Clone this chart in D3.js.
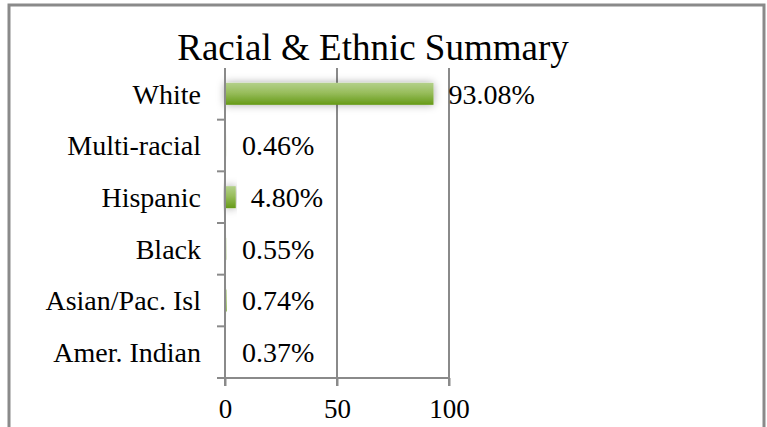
<!DOCTYPE html>
<html><head><meta charset="utf-8">
<script src="https://cdn.jsdelivr.net/npm/d3@7"></script>
<style>html,body{margin:0;padding:0;background:#fff;}svg{display:block;}</style>
</head><body>
<svg id="chart" width="767" height="427"></svg>
<script>
const categories = ["White","Multi-racial","Hispanic","Black","Asian/Pac. Isl","Amer. Indian"];
const values = [93.08, 0.46, 4.80, 0.55, 0.74, 0.37];
const labels = ["93.08%","0.46%","4.80%","0.55%","0.74%","0.37%"];
const xTicks = [0, 50, 100];

const svg = d3.select("#chart");
const font = "Liberation Serif";
const data = categories.map((c,i)=>({c, v: values[i], l: labels[i]}));

// frame
svg.append("path").attr("d","M9,440 L9,5 L764,5 L764,440")
  .attr("fill","none").attr("stroke","#8a8a8a").attr("stroke-width",3);

const defs = svg.append("defs");
const g1 = defs.append("linearGradient").attr("id","barGrad").attr("x1",0).attr("y1",0).attr("x2",0).attr("y2",1);
g1.append("stop").attr("offset","0%").attr("stop-color","#b3d08a");
g1.append("stop").attr("offset","45%").attr("stop-color","#98bd5c");
g1.append("stop").attr("offset","100%").attr("stop-color","#659a17");
const f = defs.append("filter").attr("id","shadow").attr("x","-10%").attr("y","-60%").attr("width","120%").attr("height","220%");
f.append("feDropShadow").attr("dx",0).attr("dy",0).attr("stdDeviation",4).attr("flood-color","#000").attr("flood-opacity",0.35);

const x = d3.scaleLinear().domain([0,100]).range([225,449]);
const y = d3.scaleBand().domain(categories).range([68,378]);

svg.append("text").attr("x",373).attr("y",60).attr("text-anchor","middle")
  .style("font-family",font).attr("font-size",37).attr("fill","#000").text("Racial & Ethnic Summary");

// gridlines
svg.append("g").selectAll("line").data(xTicks.filter(t=>t>0)).join("line")
  .attr("x1",d=>x(d)).attr("x2",d=>x(d)).attr("y1",68).attr("y2",386)
  .attr("stroke","#8a8a8a").attr("stroke-width",2);

// bars
svg.append("g").selectAll("rect").data(data).join("rect")
  .attr("x",x(0)).attr("y",d=>y(d.c)+y.bandwidth()/2-11)
  .attr("width",d=>x(d.v)-x(0)).attr("height",22)
  .attr("fill","url(#barGrad)").attr("filter","url(#shadow)");

// x axis
const xAxis = d3.axisBottom(x).tickValues(xTicks).tickSize(8).tickPadding(13).tickFormat(d3.format("d"));
const gx = svg.append("g").attr("transform","translate(0,378)").call(xAxis);
gx.select(".domain").attr("d","M217,0H449").attr("stroke","#8a8a8a").attr("stroke-width",2);
gx.selectAll(".tick line").attr("stroke","#8a8a8a").attr("stroke-width",2);
gx.selectAll(".tick text").style("font-family",font).attr("font-size",27).attr("fill","#000").attr("dy","0.71em");

// y axis
const gy = svg.append("g").attr("transform","translate(225,0)");
gy.append("line").attr("x1",0).attr("x2",0).attr("y1",68).attr("y2",386).attr("stroke","#8a8a8a").attr("stroke-width",2);
gy.selectAll("line.tk").data(categories.slice(1)).join("line").attr("class","tk")
  .attr("x1",-8).attr("x2",0).attr("y1",d=>y(d)).attr("y2",d=>y(d))
  .attr("stroke","#8a8a8a").attr("stroke-width",2);
gy.selectAll("text").data(categories).join("text")
  .attr("x",-24).attr("y",d=>y(d)+y.bandwidth()/2).attr("dy","0.35em")
  .attr("text-anchor","end").style("font-family",font).attr("font-size",28).attr("fill","#000").text(d=>d);

// value labels
svg.append("g").selectAll("text").data(data).join("text")
  .attr("x",d=>Math.max(x(d.v)+15, 242)).attr("y",d=>y(d.c)+y.bandwidth()/2).attr("dy","0.35em")
  .style("font-family",font).attr("font-size",28).attr("fill","#000").text(d=>d.l);
</script>
</body></html>
